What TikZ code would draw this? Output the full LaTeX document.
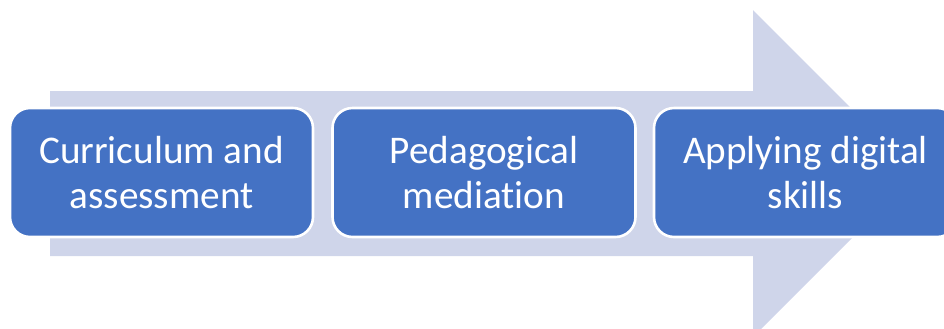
\documentclass[tikz,border=0pt]{standalone}
\usepackage{fontspec}
\setmainfont{Carlito}[Ligatures={NoCommon}]
\usepackage{tikz}
\usepackage{xcolor}
\usetikzlibrary{positioning}

\definecolor{arrowfill}{HTML}{CFD5EA}
\definecolor{stagefill}{HTML}{4472C4}

\tikzset{
    stage/.style={draw=white, line width=1.3pt, fill=stagefill, rounded corners=10pt,
        minimum width=151.5pt, minimum height=64.5pt, align=center, text=white,
        font=\fontsize{19.6pt}{22.6pt}\selectfont, inner sep=0pt}
}

\begin{document}
\begin{tikzpicture}[x=0.5pt, y=-0.5pt]

    % Frame
    \useasboundingbox (0,0) rectangle (944,328);
    \clip (0,0) rectangle (944,328);

    % Background arrow
    \fill[arrowfill] (50,91) -- (753,91) -- (753,10) -- (916.5,173.5)
        -- (753,337) -- (753,256) -- (50,256) -- cycle;

    % Stages
    \node[stage] (curriculum) at (161.5,172.5) {Curriculum and\\assessment};
    \node[stage] (mediation) at (484,172.5) {Pedagogical\\mediation};
    \node[stage] (skills) at (805.5,172.5) {Applying digital\\skills};

\end{tikzpicture}
\end{document}
